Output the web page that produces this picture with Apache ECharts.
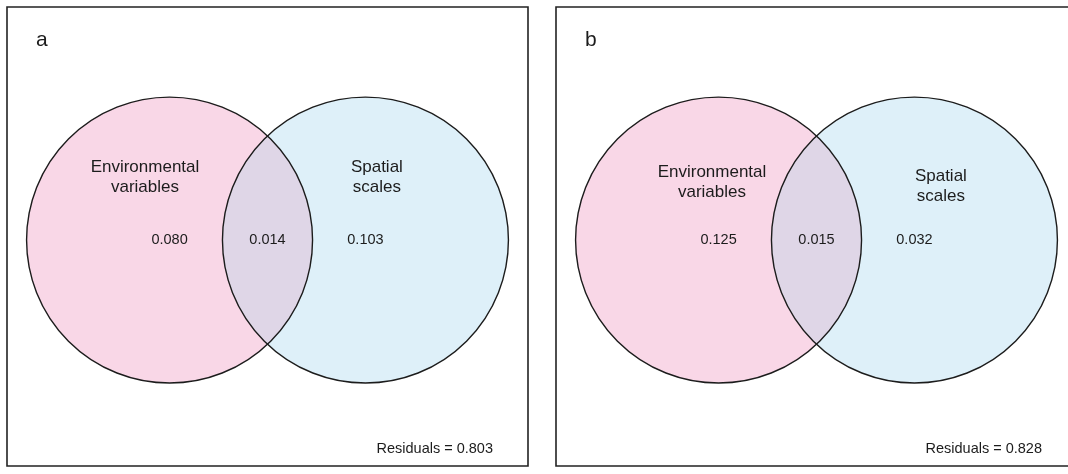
<!DOCTYPE html>
<html>
<head>
<meta charset="utf-8">
<script src="https://cdn.jsdelivr.net/npm/echarts@6/dist/echarts.min.js"></script>
<style>
  html, body { margin: 0; padding: 0; background: #fff; }
  #chart { width: 1068px; height: 474px; }
</style>
</head>
<body>
<div id="chart"></div>
<script>
// Variation partitioning results, one Venn panel per analysis
const panels = ['a', 'b'];
const setNames = ['Environmental\nvariables', 'Spatial\nscales'];
const envOnly = [0.080, 0.125];
const shared = [0.014, 0.015];
const spatialOnly = [0.103, 0.032];
const residuals = [0.803, 0.828];

// Venn geometry in axis units (circle radius = 1)
const HALF_GAP = 0.685;              // half the distance between circle centres
const X_RANGE = [-1.822, 1.822];
const Y_RANGE = [-1.58, 1.63];
const NAME_SPOTS = [
  [[-0.857, 0.44], [0.765, 0.437]],
  [[-0.731, 0.406], [0.87, 0.375]]
];
const LETTER_SPOT = [-1.62, 1.40];
const RESIDUAL_SPOT = [1.577, -1.461];

const PINK = '#f9d7e7', BLUE = '#def0f9', LENS = '#dfd6e7', INK = '#1c1c1c';
const FONT = '"Liberation Sans", Arial, sans-serif';

const fmt = v => v.toFixed(3);

const chart = echarts.init(document.getElementById('chart'), null, { renderer: 'canvas' });

// The second panel runs past the right edge of the canvas, so keep the grid
// at its full size instead of letting it shrink into the viewport.
const grids = panels.map((p, i) => ({
  left: i === 0 ? 7 : 556, top: 7, width: 521, height: 459,
  outerBoundsMode: 'none', containLabel: false,
  show: true, borderColor: '#222', borderWidth: 1.6, backgroundColor: 'transparent'
}));
const xAxes = panels.map((p, i) => ({ type: 'value', gridIndex: i, min: X_RANGE[0], max: X_RANGE[1], show: false }));
const yAxes = panels.map((p, i) => ({ type: 'value', gridIndex: i, min: Y_RANGE[0], max: Y_RANGE[1], show: false }));

function vennSeries(i) {
  return {
    type: 'custom', xAxisIndex: i, yAxisIndex: i, silent: true, animation: false, clip: false,
    data: [[0, 0]],
    renderItem: (params, api) => {
      const L = api.coord([-HALF_GAP, 0]);
      const Rc = api.coord([HALF_GAP, 0]);
      const r = api.size([1, 1])[1];
      const c = Math.sqrt(1 - HALF_GAP * HALF_GAP);
      const T = api.coord([0, c]);
      const B = api.coord([0, -c]);
      const lensPath = `M ${T[0]} ${T[1]} A ${r} ${r} 0 0 1 ${B[0]} ${B[1]} A ${r} ${r} 0 0 1 ${T[0]} ${T[1]} Z`;
      return {
        type: 'group',
        children: [
          { type: 'circle', shape: { cx: L[0], cy: L[1], r }, style: { fill: PINK } },
          { type: 'circle', shape: { cx: Rc[0], cy: Rc[1], r }, style: { fill: BLUE } },
          { type: 'path', shape: { pathData: lensPath }, style: { fill: LENS } },
          { type: 'circle', shape: { cx: L[0], cy: L[1], r }, style: { fill: 'none', stroke: INK, lineWidth: 1.4 } },
          { type: 'circle', shape: { cx: Rc[0], cy: Rc[1], r }, style: { fill: 'none', stroke: INK, lineWidth: 1.4 } }
        ]
      };
    }
  };
}

function labelSeries(i) {
  const items = [
    { pos: LETTER_SPOT, text: panels[i], size: 21, align: 'left' },
    { pos: NAME_SPOTS[i][0], text: setNames[0], size: 17, align: 'center' },
    { pos: NAME_SPOTS[i][1], text: setNames[1], size: 17, align: 'center' },
    { pos: [-HALF_GAP, 0], text: fmt(envOnly[i]), size: 14.5, align: 'center' },
    { pos: [0, 0], text: fmt(shared[i]), size: 14.5, align: 'center' },
    { pos: [HALF_GAP, 0], text: fmt(spatialOnly[i]), size: 14.5, align: 'center' },
    { pos: RESIDUAL_SPOT, text: 'Residuals = ' + fmt(residuals[i]), size: 14.5, align: 'right' }
  ];
  return {
    type: 'custom', xAxisIndex: i, yAxisIndex: i, silent: true, animation: false, clip: false, z: 5,
    data: items.map(it => it.pos),
    renderItem: (params, api) => {
      const it = items[params.dataIndex];
      const p = api.coord([api.value(0), api.value(1)]);
      return {
        type: 'text', x: p[0], y: p[1],
        style: {
          text: it.text, fill: INK, fontSize: it.size, fontFamily: FONT,
          align: it.align, verticalAlign: 'middle', lineHeight: 20
        }
      };
    }
  };
}

chart.setOption({
  animation: false,
  backgroundColor: '#fff',
  grid: grids,
  xAxis: xAxes,
  yAxis: yAxes,
  series: [vennSeries(0), vennSeries(1), labelSeries(0), labelSeries(1)]
});
</script>
</body>
</html>
